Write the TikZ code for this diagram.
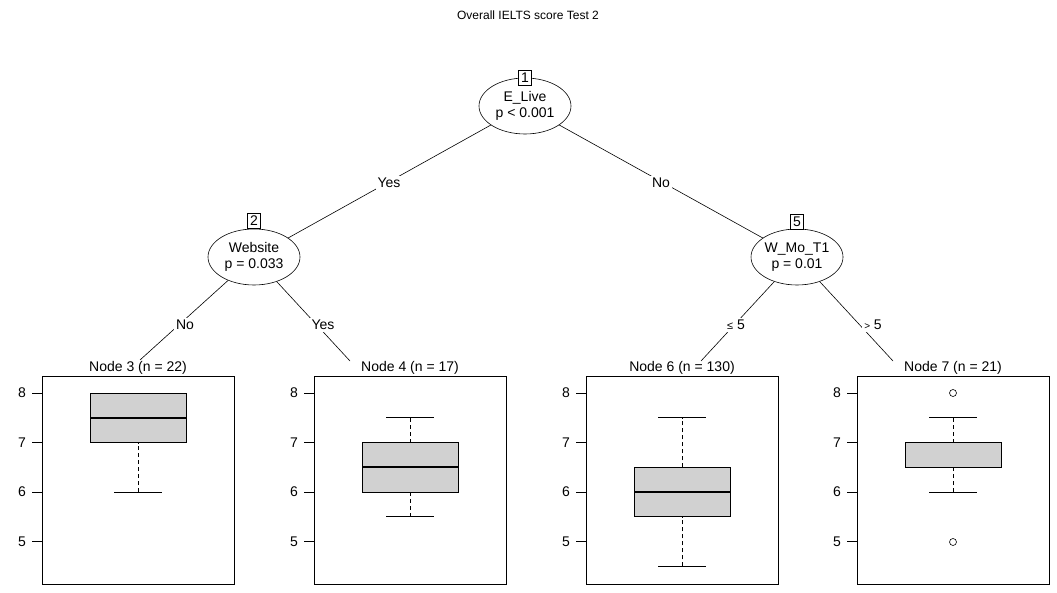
\documentclass[tikz,border=0pt]{standalone}
\usepackage{fontspec}
\setmainfont{Liberation Sans}
\usetikzlibrary{shapes.geometric}
\begin{document}
\begin{tikzpicture}[x=1pt,y=-1pt,
  txt/.style={font=\fontsize{14}{16}\selectfont, inner sep=1pt},
  inner/.style={ellipse,draw,line width=0.6pt,minimum width=92pt,minimum height=56pt,inner sep=0pt,align=center,font=\fontsize{14}{16}\selectfont},
  num/.style={draw,fill=white,line width=0.6pt,inner sep=1.5pt,font=\fontsize{14}{16}\selectfont,minimum width=13pt,minimum height=15pt},
  edge/.style={line width=0.6pt},
  elab/.style={txt,fill=white,inner sep=2pt},
  panel/.style={draw,line width=0.6pt},
  boxs/.style={draw,fill=black!18,line width=0.6pt},
  whisk/.style={line width=0.6pt,dash pattern=on 4pt off 3pt},
  ]
\useasboundingbox (0,0) rectangle (1057,593);
\node[txt,font=\fontsize{12}{14}\selectfont] (title) at (528,15) {Overall IELTS score Test 2};
% inner nodes
\node[inner] (n1) at (525,106) {E\_Live\\p < 0.001};
\node[num] (b1) at (525,78) {1};
\node[inner] (n2) at (254,257) {Website\\p = 0.033};
\node[num] (b2) at (254,221) {2};
\node[inner] (n5) at (797,257) {W\_Mo\_T1\\p = 0.01};
\node[num] (b5) at (797,222) {5};
% panel titles
\node[txt] (t3) at (138,368) {Node 3 (n = 22)};
\node[txt] (t4) at (410,368) {Node 4 (n = 17)};
\node[txt] (t6) at (682,368) {Node 6 (n = 130)};
\node[txt] (t7) at (953,368) {Node 7 (n = 21)};
\coordinate (c3) at (140,360);
\coordinate (c4) at (350,361);
\coordinate (c6) at (701,361);
\coordinate (c7) at (893,361);
% edges
\draw[edge] (n1) -- (n2);
\draw[edge] (n1) -- (n5);
\draw[edge] (n2) -- (c3);
\draw[edge] (n2) -- (c4);
\draw[edge] (n5) -- (c6);
\draw[edge] (n5) -- (c7);
\node[elab] (l1) at (389,183) {Yes};
\node[elab] (l2) at (661,183) {No};
\node[elab] (l3) at (185,325) {No};
\node[elab] (l4) at (323,325) {Yes};
\node[elab] (l5) at (736,325) {{\fontsize{11}{12}\selectfont ≤} 5};
\node[elab] (l6) at (873,325) {{\fontsize{10}{12}\selectfont >} 5};
% panels
\newcommand\mypanel[7]{% left, boxcenter, lowwh, q1, med, q3, highwh
  \pgfmathsetmacro\L{#1}\pgfmathsetmacro\C{#2}
  \draw[panel] (\L,376) rectangle (\L+192,584);
  \draw[line width=1pt] (\L,393) -- (\L,542);
  \foreach \v in {5,6,7,8}{
    \draw[line width=0.6pt] (\L-10,{393+(8-\v)*49.5}) -- (\L,{393+(8-\v)*49.5});
    \node[txt,anchor=east] at (\L-15,{393+(8-\v)*49.5}) {\v};
  }
  \draw[whisk] (\C,{393+(8-#3)*49.5}) -- (\C,{393+(8-#4)*49.5});
  \draw[whisk] (\C,{393+(8-#6)*49.5}) -- (\C,{393+(8-#7)*49.5});
  \draw[line width=0.6pt] (\C-24,{393+(8-#3)*49.5}) -- (\C+24,{393+(8-#3)*49.5});
  \draw[line width=0.6pt] (\C-24,{393+(8-#7)*49.5}) -- (\C+24,{393+(8-#7)*49.5});
  \draw[boxs] (\C-48,{393+(8-#4)*49.5}) rectangle (\C+48,{393+(8-#6)*49.5});
  \draw[line width=1.6pt] (\C-48,{393+(8-#5)*49.5}) -- (\C+48,{393+(8-#5)*49.5});
}
\mypanel{42}{138}{6}{7}{7.5}{8}{8}
\mypanel{314}{410}{5.5}{6}{6.5}{7}{7.5}
\mypanel{586}{682}{4.5}{5.5}{6}{6.5}{7.5}
\mypanel{857}{953}{6}{6.5}{7}{7}{7.5}
\draw[line width=0.6pt] (953,393) circle (3.5);
\draw[line width=0.6pt] (953,542) circle (3.5);
\end{tikzpicture}
\end{document}
